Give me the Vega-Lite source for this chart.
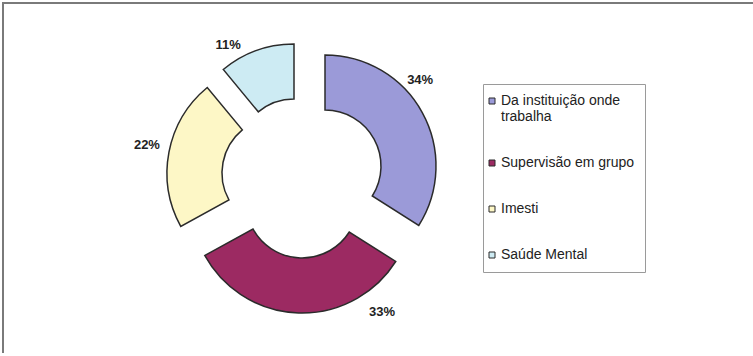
{
  "$schema": "https://vega.github.io/schema/vega-lite/v6.json",
  "width": 750,
  "height": 350,
  "autosize": "none",
  "padding": {"left": 3, "top": 3, "right": 0, "bottom": 3},
  "background": "white",
  "config": {
    "view": {"stroke": "#7a7a7a", "strokeWidth": 2, "strokeDash": [750, 1100, 350]},
    "font": "Liberation Sans"
  },
  "data": {
    "values": [
      {"categoria": "Da instituição onde trabalha", "pct": 34, "rotulo": "34%"},
      {"categoria": "Supervisão em grupo", "pct": 33, "rotulo": "33%"},
      {"categoria": "Imesti", "pct": 22, "rotulo": "22%"},
      {"categoria": "Saúde Mental", "pct": 11, "rotulo": "11%"}
    ]
  },
  "transform": [
    {"stack": "pct", "groupby": [], "sort": [{"field": "pct", "order": "descending"}], "as": ["t0", "t1"]}
  ],
  "encoding": {
    "x": {"datum": 0.4, "type": "quantitative", "scale": {"domain": [0, 1]}, "axis": null},
    "y": {"datum": 0.5, "type": "quantitative", "scale": {"domain": [0, 1]}, "axis": null}
  },
  "layer": [
    {
      "transform": [{"filter": "datum.categoria === 'Da instituição onde trabalha'"}],
      "mark": {"type": "arc", "innerRadius": 56, "outerRadius": 111, "stroke": "#2b2b2b", "strokeWidth": 1.5, "xOffset": 22, "yOffset": -12},
      "encoding": {
        "theta": {"field": "t0", "type": "quantitative", "stack": null, "scale": {"domain": [0, 100]}},
        "theta2": {"field": "t1"},
        "color": {"field": "categoria", "type": "nominal", "scale": {"domain": ["Da instituição onde trabalha", "Supervisão em grupo", "Imesti", "Saúde Mental"], "range": ["#9b9ad8", "#9c2a62", "#fdf7c6", "#cdebf3"]}, "legend": {"title": null, "orient": "none", "legendX": 480, "legendY": 81, "strokeColor": "#9a9a9a", "padding": 10, "symbolType": "square", "symbolSize": 36, "symbolOffset": -8, "symbolStrokeColor": "#333333", "symbolStrokeWidth": 1, "labelFont": "Liberation Sans", "labelFontSize": 14, "labelColor": "#222222", "rowPadding": 32, "labelOffset": 2, "labelLimit": 200, "labelBaseline": "middle", "labelExpr": "datum.label === 'Da instituição onde trabalha' ? ['Da instituição onde', 'trabalha'] : datum.label"}}
      }
    },
    {
      "transform": [{"filter": "datum.categoria === 'Supervisão em grupo'"}],
      "mark": {"type": "arc", "innerRadius": 56, "outerRadius": 111, "stroke": "#2b2b2b", "strokeWidth": 1.5, "xOffset": -1, "yOffset": 24},
      "encoding": {
        "theta": {"field": "t0", "type": "quantitative", "stack": null, "scale": {"domain": [0, 100]}},
        "theta2": {"field": "t1"},
        "color": {"field": "categoria", "type": "nominal"}
      }
    },
    {
      "transform": [{"filter": "datum.categoria === 'Imesti'"}],
      "mark": {"type": "arc", "innerRadius": 56, "outerRadius": 111, "stroke": "#2b2b2b", "strokeWidth": 1.5, "xOffset": -25, "yOffset": -5},
      "encoding": {
        "theta": {"field": "t0", "type": "quantitative", "stack": null, "scale": {"domain": [0, 100]}},
        "theta2": {"field": "t1"},
        "color": {"field": "categoria", "type": "nominal"}
      }
    },
    {
      "transform": [{"filter": "datum.categoria === 'Saúde Mental'"}],
      "mark": {"type": "arc", "innerRadius": 56, "outerRadius": 111, "stroke": "#2b2b2b", "strokeWidth": 1.5, "xOffset": -9, "yOffset": -23},
      "encoding": {
        "theta": {"field": "t0", "type": "quantitative", "stack": null, "scale": {"domain": [0, 100]}},
        "theta2": {"field": "t1"},
        "color": {"field": "categoria", "type": "nominal"}
      }
    },
    {
      "transform": [{"filter": "datum.categoria === 'Da instituição onde trabalha'"}],
      "mark": {"type": "text", "radius": 128, "thetaOffset": 0.838, "xOffset": 22, "yOffset": -12, "font": "Liberation Sans", "fontWeight": "bold", "fontSize": 13, "fill": "#222222"},
      "encoding": {
        "theta": {"field": "t0", "type": "quantitative", "stack": null, "scale": {"domain": [0, 100]}},
        "text": {"field": "rotulo"}
      }
    },
    {
      "transform": [{"filter": "datum.categoria === 'Supervisão em grupo'"}],
      "mark": {"type": "text", "radius": 136, "thetaOffset": 0.377, "xOffset": -1, "yOffset": 24, "font": "Liberation Sans", "fontWeight": "bold", "fontSize": 13, "fill": "#222222"},
      "encoding": {
        "theta": {"field": "t0", "type": "quantitative", "stack": null, "scale": {"domain": [0, 100]}},
        "text": {"field": "rotulo"}
      }
    },
    {
      "transform": [{"filter": "datum.categoria === 'Imesti'"}],
      "mark": {"type": "text", "radius": 134, "thetaOffset": 0.712, "xOffset": -25, "yOffset": -5, "font": "Liberation Sans", "fontWeight": "bold", "fontSize": 13, "fill": "#222222"},
      "encoding": {
        "theta": {"field": "t0", "type": "quantitative", "stack": null, "scale": {"domain": [0, 100]}},
        "text": {"field": "rotulo"}
      }
    },
    {
      "transform": [{"filter": "datum.categoria === 'Saúde Mental'"}],
      "mark": {"type": "text", "radius": 128, "thetaOffset": 0.15, "xOffset": -9, "yOffset": -23, "font": "Liberation Sans", "fontWeight": "bold", "fontSize": 13, "fill": "#222222"},
      "encoding": {
        "theta": {"field": "t0", "type": "quantitative", "stack": null, "scale": {"domain": [0, 100]}},
        "text": {"field": "rotulo"}
      }
    }
  ]
}
